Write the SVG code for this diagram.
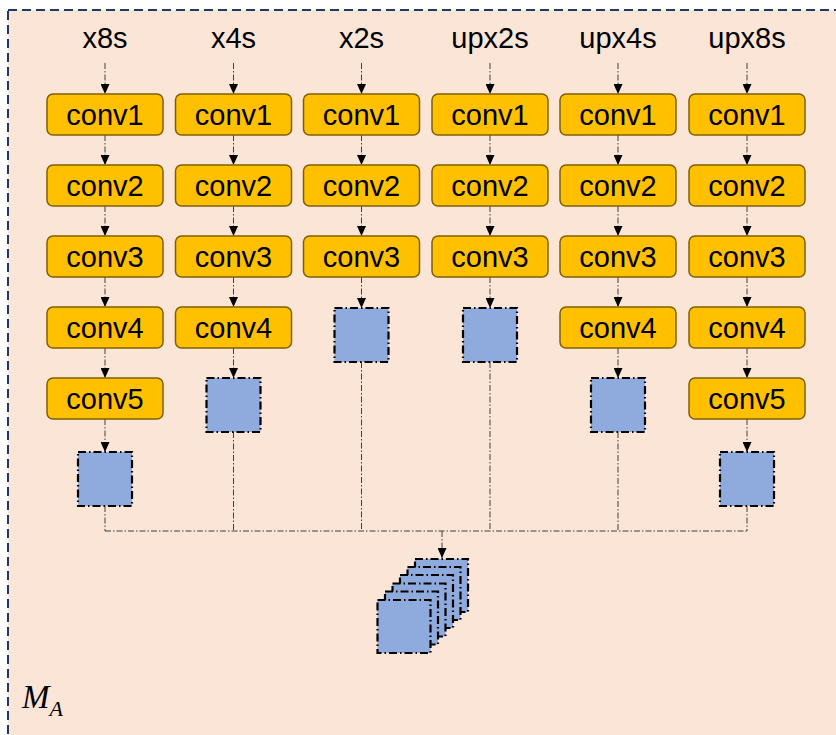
<svg xmlns="http://www.w3.org/2000/svg" width="836" height="735" viewBox="0 0 836 735">
<defs>
<marker id="ah" viewBox="0 0 10 9" refX="10" refY="4.5" markerWidth="10" markerHeight="9" markerUnits="userSpaceOnUse" orient="auto">
<path d="M0,0 L10,4.5 L0,9 Z" fill="#000"/>
</marker>
<style>
.frame{fill:#FBE5D6;stroke:#203864;stroke-width:2;stroke-dasharray:9 5}
.conv rect{fill:#FFC000;stroke:#7F6000;stroke-width:1.5}
.t{font-family:"Liberation Sans",Arial,sans-serif;font-size:29px;fill:#000;text-anchor:middle}
.fm{fill:#8FAADC;stroke:#000;stroke-width:2.2;stroke-dasharray:8 3 1.5 3}
.ln{fill:none;stroke:#404040;stroke-width:1;stroke-dasharray:6 2 1.5 2}
.ar{fill:none;stroke:#404040;stroke-width:1;stroke-dasharray:6 2 1.5 2;marker-end:url(#ah)}
.math{font-family:"Liberation Serif","DejaVu Serif",serif;font-style:italic;fill:#000}
</style>
</defs>
<rect x="0" y="0" width="836" height="735" fill="#fff"/>
<rect class="frame" x="8" y="10" width="840" height="740"/>

<g id="labels">
<text class="t" x="105" y="48">x8s</text>
<text class="t" x="233.5" y="48">x4s</text>
<text class="t" x="361.5" y="48">x2s</text>
<text class="t" x="490" y="48">upx2s</text>
<text class="t" x="618" y="48">upx4s</text>
<text class="t" x="747" y="48">upx8s</text>
</g>

<g id="connectors">
<line class="ar" x1="105" y1="63" x2="105" y2="94"/>
<line class="ar" x1="105" y1="135" x2="105" y2="165"/>
<line class="ar" x1="105" y1="206" x2="105" y2="236"/>
<line class="ar" x1="105" y1="277" x2="105" y2="307"/>
<line class="ar" x1="105" y1="348" x2="105" y2="378"/>
<line class="ar" x1="105" y1="419" x2="105" y2="452"/>
<line class="ar" x1="233.5" y1="63" x2="233.5" y2="94"/>
<line class="ar" x1="233.5" y1="135" x2="233.5" y2="165"/>
<line class="ar" x1="233.5" y1="206" x2="233.5" y2="236"/>
<line class="ar" x1="233.5" y1="277" x2="233.5" y2="307"/>
<line class="ar" x1="233.5" y1="348" x2="233.5" y2="378"/>
<line class="ar" x1="361.5" y1="63" x2="361.5" y2="94"/>
<line class="ar" x1="361.5" y1="135" x2="361.5" y2="165"/>
<line class="ar" x1="361.5" y1="206" x2="361.5" y2="236"/>
<line class="ar" x1="361.5" y1="277" x2="361.5" y2="308"/>
<line class="ar" x1="490" y1="63" x2="490" y2="94"/>
<line class="ar" x1="490" y1="135" x2="490" y2="165"/>
<line class="ar" x1="490" y1="206" x2="490" y2="236"/>
<line class="ar" x1="490" y1="277" x2="490" y2="308"/>
<line class="ar" x1="618" y1="63" x2="618" y2="94"/>
<line class="ar" x1="618" y1="135" x2="618" y2="165"/>
<line class="ar" x1="618" y1="206" x2="618" y2="236"/>
<line class="ar" x1="618" y1="277" x2="618" y2="307"/>
<line class="ar" x1="618" y1="348" x2="618" y2="378"/>
<line class="ar" x1="747" y1="63" x2="747" y2="94"/>
<line class="ar" x1="747" y1="135" x2="747" y2="165"/>
<line class="ar" x1="747" y1="206" x2="747" y2="236"/>
<line class="ar" x1="747" y1="277" x2="747" y2="307"/>
<line class="ar" x1="747" y1="348" x2="747" y2="378"/>
<line class="ar" x1="747" y1="419" x2="747" y2="452"/>
<line class="ln" x1="105" y1="506" x2="105" y2="531"/>
<line class="ln" x1="233.5" y1="432" x2="233.5" y2="531"/>
<line class="ln" x1="361.5" y1="362" x2="361.5" y2="531"/>
<line class="ln" x1="490" y1="362" x2="490" y2="531"/>
<line class="ln" x1="618" y1="432" x2="618" y2="531"/>
<line class="ln" x1="747" y1="506" x2="747" y2="531"/>
<line class="ln" x1="105" y1="531" x2="747" y2="531"/>
<line class="ar" x1="442" y1="531" x2="442" y2="558"/>
</g>

<g id="col1" class="conv">
<rect x="47" y="94" width="116" height="41" rx="6"/><text class="t" x="105" y="125">conv1</text>
<rect x="47" y="165" width="116" height="41" rx="6"/><text class="t" x="105" y="196">conv2</text>
<rect x="47" y="236" width="116" height="41" rx="6"/><text class="t" x="105" y="267">conv3</text>
<rect x="47" y="307" width="116" height="41" rx="6"/><text class="t" x="105" y="338">conv4</text>
<rect x="47" y="378" width="116" height="41" rx="6"/><text class="t" x="105" y="409">conv5</text>
</g>
<g id="col2" class="conv">
<rect x="175.5" y="94" width="116" height="41" rx="6"/><text class="t" x="233.5" y="125">conv1</text>
<rect x="175.5" y="165" width="116" height="41" rx="6"/><text class="t" x="233.5" y="196">conv2</text>
<rect x="175.5" y="236" width="116" height="41" rx="6"/><text class="t" x="233.5" y="267">conv3</text>
<rect x="175.5" y="307" width="116" height="41" rx="6"/><text class="t" x="233.5" y="338">conv4</text>
</g>
<g id="col3" class="conv">
<rect x="303.5" y="94" width="116" height="41" rx="6"/><text class="t" x="361.5" y="125">conv1</text>
<rect x="303.5" y="165" width="116" height="41" rx="6"/><text class="t" x="361.5" y="196">conv2</text>
<rect x="303.5" y="236" width="116" height="41" rx="6"/><text class="t" x="361.5" y="267">conv3</text>
</g>
<g id="col4" class="conv">
<rect x="432" y="94" width="116" height="41" rx="6"/><text class="t" x="490" y="125">conv1</text>
<rect x="432" y="165" width="116" height="41" rx="6"/><text class="t" x="490" y="196">conv2</text>
<rect x="432" y="236" width="116" height="41" rx="6"/><text class="t" x="490" y="267">conv3</text>
</g>
<g id="col5" class="conv">
<rect x="560" y="94" width="116" height="41" rx="6"/><text class="t" x="618" y="125">conv1</text>
<rect x="560" y="165" width="116" height="41" rx="6"/><text class="t" x="618" y="196">conv2</text>
<rect x="560" y="236" width="116" height="41" rx="6"/><text class="t" x="618" y="267">conv3</text>
<rect x="560" y="307" width="116" height="41" rx="6"/><text class="t" x="618" y="338">conv4</text>
</g>
<g id="col6" class="conv">
<rect x="689" y="94" width="116" height="41" rx="6"/><text class="t" x="747" y="125">conv1</text>
<rect x="689" y="165" width="116" height="41" rx="6"/><text class="t" x="747" y="196">conv2</text>
<rect x="689" y="236" width="116" height="41" rx="6"/><text class="t" x="747" y="267">conv3</text>
<rect x="689" y="307" width="116" height="41" rx="6"/><text class="t" x="747" y="338">conv4</text>
<rect x="689" y="378" width="116" height="41" rx="6"/><text class="t" x="747" y="409">conv5</text>
</g>

<g id="fm1"><rect class="fm" x="78" y="452" width="54" height="54"/></g>
<g id="fm2"><rect class="fm" x="206.5" y="378" width="54" height="54"/></g>
<g id="fm3"><rect class="fm" x="334.5" y="308" width="54" height="54"/></g>
<g id="fm4"><rect class="fm" x="463" y="308" width="54" height="54"/></g>
<g id="fm5"><rect class="fm" x="591" y="378" width="54" height="54"/></g>
<g id="fm6"><rect class="fm" x="720" y="452" width="54" height="54"/></g>

<g id="stack">
<rect class="fm" x="415" y="559" width="53" height="53"/>
<rect class="fm" x="407.5" y="567" width="53" height="53"/>
<rect class="fm" x="400" y="575" width="53" height="53"/>
<rect class="fm" x="392.5" y="583.5" width="53" height="53"/>
<rect class="fm" x="385" y="591.5" width="53" height="53"/>
<rect class="fm" x="377.5" y="600" width="53" height="53"/>
</g>

<g id="label-MA">
<text class="math" x="22" y="708" font-size="33">M<tspan font-size="22" dy="8">A</tspan></text>
</g>
</svg>
